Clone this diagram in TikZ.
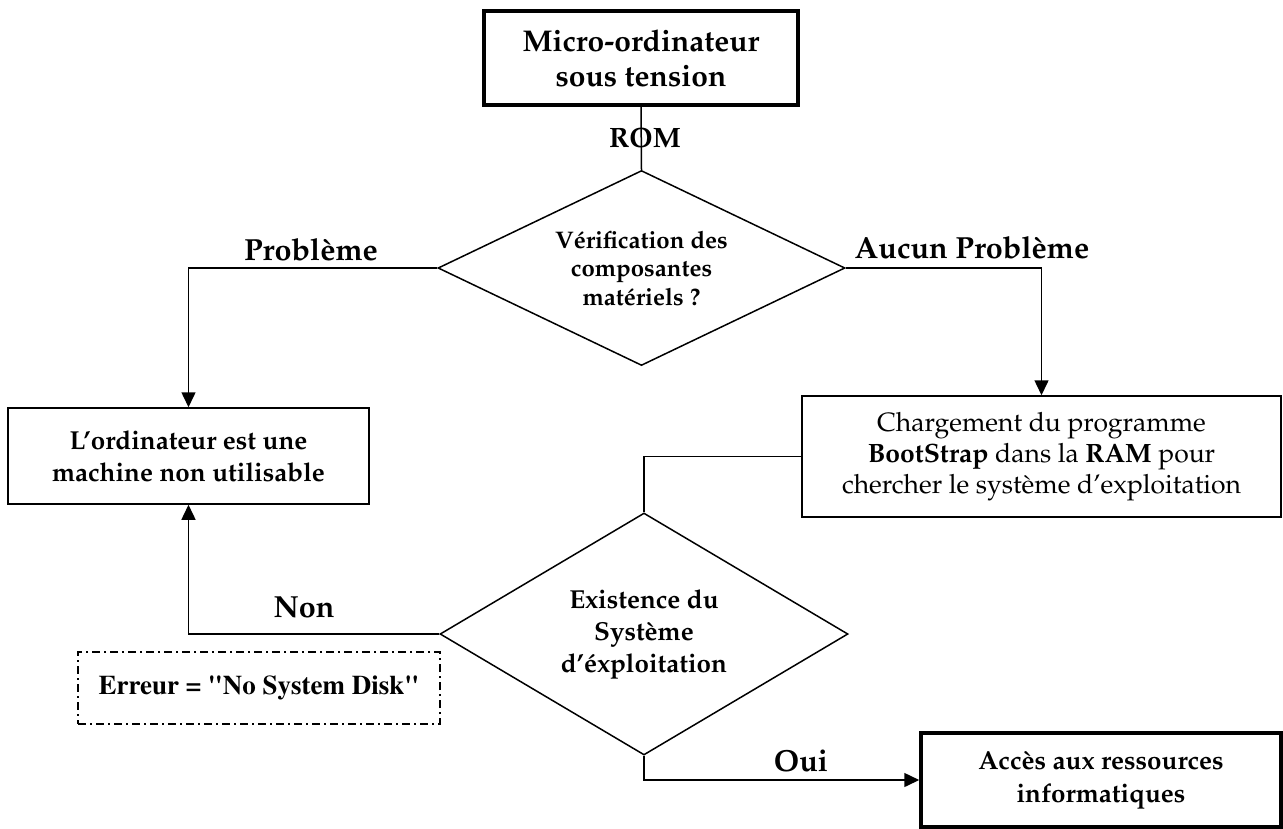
\documentclass[tikz,border=0pt]{standalone}
\usepackage[T1]{fontenc}
\usepackage{mathpazo}
\usetikzlibrary{shapes.geometric,arrows.meta}
\tikzset{
  box/.style={draw, line width=1.5pt, align=center, inner sep=0pt},
  thickbox/.style={box, line width=3.5pt},
  dec/.style={draw, shape=diamond, line width=1.5pt, align=center, inner sep=0pt, aspect=2.09},
  conn/.style={line width=1.5pt},
  arr/.style={conn, -{Triangle[length=15pt,width=14pt]}},
  lab/.style={font=\fontsize{30.5}{34}\selectfont\bfseries, inner sep=0pt, anchor=base},
  errbox/.style={draw, line width=1.3pt, dash pattern=on 8pt off 4pt on 2pt off 4pt, align=center, inner sep=0pt}
}
\begin{document}
\begin{tikzpicture}[x=1pt,y=-1pt]
\useasboundingbox (0,0) rectangle (1283,828);
\node[thickbox, minimum width=314pt, minimum height=94pt, font=\fontsize{30}{35}\selectfont\bfseries] (top) at (641,58) {Micro-ordinateur\\sous tension};
\node[dec, minimum width=407pt, minimum height=195pt, font=\fontsize{24}{28.5}\selectfont\bfseries] (d1) at (641.5,268) {V\'erification des\\composantes\\mat\'eriels ?};
\node[box, minimum width=361pt, minimum height=96pt, font=\fontsize{26}{32}\selectfont\bfseries] (left) at (188.5,456) {L'ordinateur est une\\machine non utilisable};
\node[box, minimum width=479pt, minimum height=121pt, font=\fontsize{26.5}{31}\selectfont] (right) at (1041.5,456.5) {Chargement du programme\\\textbf{BootStrap} dans la \textbf{RAM} pour\\chercher le syst\`eme d'exploitation};
\node[dec, minimum width=408pt, minimum height=242pt, aspect=1.69, font=\fontsize{26}{32}\selectfont\bfseries] (d2) at (644,634) {Existence du\\Syst\`eme\\d'\'exploitation};
\node[errbox, minimum width=362pt, minimum height=72pt, font=\fontfamily{ptm}\fontsize{27}{30}\selectfont\bfseries] (err) at (259,688) {Erreur = \textquotedbl No System Disk\textquotedbl};
\node[thickbox, minimum width=360pt, minimum height=94pt, font=\fontsize{26}{33}\selectfont\bfseries] (acc) at (1101,780) {Acc\`es aux ressources\\informatiques};

\draw[conn] (top.south) -- (d1.north);
\node[lab, font=\fontsize{28}{32}\selectfont\bfseries] (rom) at (645,147) {ROM};
\draw[arr] (d1.west) -| (left.north);
\node[lab] (pb) at (311,260) {Probl\`eme};
\draw[arr] (d1.east) -| (right.north);
\node[lab] (apb) at (972,258) {Aucun Probl\`eme};
\draw[conn] (right.west) -| (d2.north);
\draw[arr] (d2.west) -| (left.south);
\node[lab] (non) at (304,617) {Non};
\draw[arr] (d2.south) |- (acc.west);
\node[lab] (oui) at (801,771) {Oui};
\end{tikzpicture}
\end{document}
